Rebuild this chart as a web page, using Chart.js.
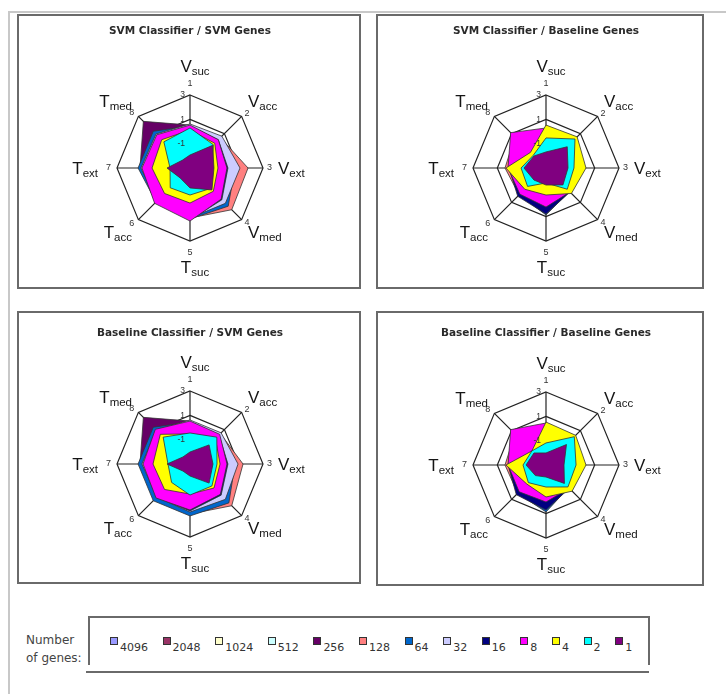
<!DOCTYPE html>
<html>
<head>
<meta charset="utf-8">
<script src="https://cdn.jsdelivr.net/npm/chart.js@4.4.1/dist/chart.umd.min.js"></script>
<style>
  html, body { margin: 0; padding: 0; background: #fff; }
  body { width: 726px; height: 694px; position: relative; overflow: hidden; font-family: "DejaVu Sans", sans-serif; }
  .frame { position: absolute; left: 8px; top: 11px; width: 718px; height: 683px; box-sizing: border-box;
           border-left: 2px solid #c8c8c8; border-top: 2px solid #c8c8c8; }
  .box { position: absolute; box-sizing: border-box; border: 2px solid #6a6a6a; background: #fff; }
  .box canvas { position: absolute; top: 0; }
  .genes-label { position: absolute; left: 26px; top: 631px; font-size: 12px; line-height: 18px; color: #444; }
  .legend-box { position: absolute; left: 88px; top: 616px; width: 562px; height: 49px; box-sizing: border-box;
                border: 2px solid #6a6a6a; border-bottom: none; display: flex; align-items: flex-start;
                padding-left: 20px; padding-top: 19px; }
  .legend-rule { position: absolute; left: 86px; top: 671px; width: 563px; height: 2px; background: #6a6a6a; }
  .item { display: flex; align-items: flex-start; margin-right: 14.6px; }
  .swatch { width: 8px; height: 8px; box-sizing: border-box; border: 1px solid #333; }
  .item span { font-size: 11px; line-height: 12px; color: #333; margin-left: 2px; margin-top: 5px; }
</style>
</head>
<body>
<div class="frame"></div>
<div class="genes-label">Number<br>of genes:</div>
<div class="legend-box" id="legend"></div>
<div class="legend-rule"></div>
<script>
// axes of every radar, clockwise from the top
const axisLetters = ['V', 'V', 'V', 'V', 'T', 'T', 'T', 'T'];
const axisSubs = ['suc', 'acc', 'ext', 'med', 'suc', 'acc', 'ext', 'med'];
const axisNumbers = ['1', '2', '3', '4', '5', '6', '7', '8'];

// series, in legend order
const geneCounts = ['4096', '2048', '1024', '512', '256', '128', '64', '32', '16', '8', '4', '2', '1'];
const geneColors = ['#9999FF', '#993366', '#FFFFCC', '#CCFFFF', '#660066', '#FF8080', '#0066CC',
                    '#CCCCFF', '#000080', '#FF00FF', '#FFFF00', '#00FFFF', '#800080'];

const chartTitles = ['SVM Classifier / SVM Genes', 'SVM Classifier / Baseline Genes',
                     'Baseline Classifier / SVM Genes', 'Baseline Classifier / Baseline Genes'];

// radial scale
const scaleMin = -3;
const scaleMax = 3;
const scaleStep = 2;

// one row per gene count (same order as geneCounts), one value per axis
const svmClassifierSvmGenes = [
    [0.45, 0.45, 0.78, 1.11, 0.95, 0.78, 0.95, 1.11],
    [0.45, 0.45, 0.86, 1.27, 1.03, 0.78, 1.03, 1.27],
    [0.45, 0.53, 0.86, 1.19, 1.03, 0.78, 1.03, 1.19],
    [0.45, 0.53, 0.86, 1.19, 1.03, 0.78, 1.03, 1.11],
    [0.53, 0.45, 0.70, 1.27, 1.11, 0.86, 1.11, 2.42],
    [0.45, 0.53, 1.77, 1.85, 1.11, 0.86, 1.11, 1.11],
    [0.45, 0.45, 0.70, 1.44, 1.19, 0.95, 1.27, 1.27],
    [0.62, 0.70, 1.11, 1.11, 1.11, 0.86, 1.03, 0.95],
    [0.45, 0.29, 0.12, 0.70, 1.27, 0.95, 0.86, 0.78],
    [0.53, 0.29, 0.04, 0.62, 1.36, 1.11, 0.95, 0.86],
    [0.12, -0.12, -0.70, -0.29, -0.12, -0.04, 0.12, 0.29],
    [0.29, -0.29, -1.19, -0.62, -0.78, -0.70, -1.36, 0.04],
    [-1.93, -0.37, -1.03, -0.45, -1.36, -1.85, -1.11, -2.10]
];

const svmClassifierBaselineGenes = [
    [-0.10, -0.33, -0.50, -0.42, 0.47, 0.00, 0.00, 0.47],
    [-0.06, -0.30, -0.47, -0.38, 0.50, 0.02, 0.02, 0.50],
    [-0.04, -0.29, -0.45, -0.37, 0.53, 0.04, 0.04, 0.53],
    [-0.04, -0.29, -0.45, -0.37, 0.53, 0.04, 0.04, 0.53],
    [-0.02, -0.25, -0.42, -0.33, 0.55, 0.08, 0.02, 0.55],
    [0.04, -0.21, -0.37, -0.29, 0.62, 0.12, 0.37, 0.62],
    [0.04, -0.21, -0.37, -0.29, 0.86, 0.12, 0.04, 0.62],
    [0.04, -0.21, -0.37, -0.29, 0.62, 0.12, 0.04, 0.62],
    [0.12, -0.12, -0.29, -0.21, 0.78, 0.29, 0.04, 0.70],
    [0.29, -0.04, -0.37, -0.21, 0.21, 0.04, 0.12, 1.11],
    [0.53, 0.62, 0.29, -0.04, -0.78, -0.53, 0.29, -1.19],
    [-0.53, 0.37, -0.70, -0.53, -1.77, -0.86, -0.95, -1.52],
    [-1.68, -0.53, -1.19, -1.03, -1.60, -1.60, -1.19, -1.60]
];

const baselineClassifierSvmGenes = [
    [0.45, 0.45, 0.78, 1.11, 0.95, 0.78, 0.95, 1.11],
    [0.45, 0.45, 0.86, 1.36, 1.03, 0.86, 1.03, 1.27],
    [0.45, 0.53, 0.78, 1.19, 1.03, 0.86, 1.03, 1.11],
    [0.45, 0.53, 0.78, 1.19, 1.03, 0.86, 1.03, 1.11],
    [0.53, 0.45, 0.70, 1.27, 1.11, 0.95, 1.11, 2.42],
    [0.45, 0.53, 1.36, 1.85, 1.11, 1.03, 1.11, 1.11],
    [0.45, 0.53, 0.70, 1.52, 1.27, 1.27, 1.27, 1.27],
    [0.62, 0.62, 0.95, 1.11, 0.95, 0.86, 0.95, 0.95],
    [0.45, 0.37, 0.12, 0.62, 0.86, 0.86, 0.78, 0.86],
    [0.53, 0.45, 0.04, 0.53, 0.78, 0.95, 0.86, 1.03],
    [-0.53, -0.04, -0.53, -0.21, -0.53, -0.04, 0.04, 0.45],
    [-0.45, 0.12, -0.78, -0.45, -0.45, -0.86, -1.19, 0.12],
    [-2.01, -0.78, -1.11, -0.78, -2.01, -2.18, -1.11, -2.18]
];

const baselineClassifierBaselineGenes = [
    [0.00, -0.25, -0.50, -0.50, 0.40, 0.17, 0.00, 0.50],
    [0.02, -0.23, -0.47, -0.47, 0.43, 0.19, 0.02, 0.52],
    [0.04, -0.21, -0.45, -0.45, 0.45, 0.21, 0.04, 0.53],
    [0.04, -0.21, -0.45, -0.45, 0.45, 0.21, 0.04, 0.53],
    [0.06, -0.17, -0.42, -0.42, 0.48, 0.25, 0.02, 0.57],
    [0.12, -0.12, -0.37, -0.37, 0.53, 0.29, 0.37, 0.62],
    [0.12, -0.12, -0.37, -0.37, 0.86, 0.29, 0.04, 0.62],
    [0.12, -0.12, -0.37, -0.37, 0.53, 0.29, 0.04, 0.62],
    [0.29, -0.04, -0.29, -0.29, 0.70, 0.45, 0.12, 0.70],
    [0.45, 0.04, -0.29, -0.29, 0.04, 0.12, 0.12, 1.11],
    [0.53, 0.45, 0.29, 0.04, -0.37, -0.78, 0.29, -1.36],
    [-1.19, 0.29, -0.53, -0.45, -1.19, -0.95, -1.11, -1.36],
    [-2.01, -0.62, -1.52, -0.86, -2.01, -1.77, -1.36, -1.60]
];

const RADIUS = 73;
const CAP = 12.2;      // cap height of the big axis letter
const SUB_DROP = 3;    // subscript baseline shift

const panels = [
    { title: chartTitles[0], rows: svmClassifierSvmGenes, box: { x: 17, y: 14, w: 344, h: 275 }, cx: 190, cy: 168, ty: 31.7 },
    { title: chartTitles[1], rows: svmClassifierBaselineGenes, box: { x: 376, y: 14, w: 328, h: 275 }, cx: 546, cy: 168, ty: 31.7 },
    { title: chartTitles[2], rows: baselineClassifierSvmGenes, box: { x: 17, y: 311, w: 344, h: 273 }, cx: 190, cy: 464, ty: 333 },
    { title: chartTitles[3], rows: baselineClassifierBaselineGenes, box: { x: 376, y: 311, w: 328, h: 275 }, cx: 546, cy: 465, ty: 333 }
];

function drawAxisName(ctx, letter, sub, x, y, align, vAlign) {
    const bigFont = '17px "Liberation Sans", Arial, sans-serif';
    const subFont = '11.5px "Liberation Sans", Arial, sans-serif';
    ctx.font = bigFont;
    const wb = ctx.measureText(letter).width;
    ctx.font = subFont;
    const ws = ctx.measureText(sub).width;
    const w = wb + ws;
    const left = align === 'left' ? x : align === 'right' ? x - w : x - w / 2;
    let base;
    if (vAlign === 'top') base = y + CAP;
    else if (vAlign === 'bottom') base = y - SUB_DROP;
    else base = y + CAP / 2;
    ctx.textAlign = 'left';
    ctx.textBaseline = 'alphabetic';
    ctx.font = bigFont;
    ctx.fillText(letter, left, base);
    ctx.font = subFont;
    ctx.fillText(sub, left + wb, base + SUB_DROP);
}

// tick values, axis numbers and axis names, drawn over the web
const axisTextPlugin = {
    id: 'axisText',
    afterDraw(chart) {
        const r = chart.scales.r;
        const ctx = chart.ctx;
        const xc = r.xCenter, yc = r.yCenter, rad = r.drawingArea;
        ctx.save();

        ctx.fillStyle = '#333';
        ctx.font = '8.5px "Liberation Sans", Arial, sans-serif';
        ctx.textAlign = 'right';
        ctx.textBaseline = 'middle';
        r.ticks.forEach(t => {
            if (t.value <= r.min) return;
            ctx.fillText(String(t.value), xc - 5, yc - r.getDistanceFromCenterForValue(t.value));
        });

        ctx.font = '9px "Liberation Sans", Arial, sans-serif';
        axisNumbers.forEach((num, i) => {
            const a = r.getIndexAngle(i) - Math.PI / 2;
            const c = Math.cos(a), s = Math.sin(a);
            const vertical = Math.abs(c) < 0.2;
            const d = vertical ? rad + 7 : rad + (c < 0 ? 6 : 4);
            const p = r.getPointPosition(i, d);
            ctx.textAlign = vertical ? 'center' : c > 0 ? 'left' : 'right';
            ctx.textBaseline = vertical ? (s < 0 ? 'bottom' : 'top') : 'middle';
            ctx.fillText(num, p.x, p.y);
        });

        ctx.fillStyle = '#151515';
        axisLetters.forEach((letter, i) => {
            const a = r.getIndexAngle(i) - Math.PI / 2;
            const c = Math.cos(a), s = Math.sin(a);
            if (Math.abs(c) < 0.2) {
                const p = r.getPointPosition(i, rad + 20);
                drawAxisName(ctx, letter, axisSubs[i], p.x + 5, p.y, 'center', s < 0 ? 'bottom' : 'top');
            } else if (Math.abs(s) < 0.2) {
                const p = r.getPointPosition(i, rad + (c > 0 ? 15 : 19));
                drawAxisName(ctx, letter, axisSubs[i], p.x, p.y, c > 0 ? 'left' : 'right', 'middle');
            } else {
                const p = r.getPointPosition(i, rad + 9);
                drawAxisName(ctx, letter, axisSubs[i], p.x, p.y, c > 0 ? 'left' : 'right', s < 0 ? 'bottom' : 'top');
            }
        });
        ctx.restore();
    }
};

panels.forEach(p => {
    const box = document.createElement('div');
    box.className = 'box';
    box.style.left = p.box.x + 'px';
    box.style.top = p.box.y + 'px';
    box.style.width = p.box.w + 'px';
    box.style.height = p.box.h + 'px';

    // canvas centred on the radar so the title and the web share one centre
    const innerLeft = p.box.x + 2, innerRight = p.box.x + p.box.w - 2;
    const half = Math.min(p.cx - innerLeft, innerRight - p.cx);
    const W = 2 * half, H = p.box.h - 4;
    const canvas = document.createElement('canvas');
    canvas.width = W;
    canvas.height = H;
    canvas.style.width = W + 'px';
    canvas.style.height = H + 'px';
    canvas.style.left = (p.cx - half - innerLeft) + 'px';
    box.appendChild(canvas);
    document.body.appendChild(box);

    const oy = p.box.y + 2;
    const areaTop = p.cy - oy - RADIUS;
    const titleLine = 10.5 * 1.2;
    const titleTop = p.ty - oy - titleLine / 2;

    // first dataset is painted last, so the smallest gene count sits on top
    const datasets = geneCounts.map((g, k) => ({
        label: g,
        data: p.rows[k],
        backgroundColor: geneColors[k],
        borderColor: '#333',
        borderWidth: 0.8,
        fill: 'start',
        pointRadius: 0,
        tension: 0
    })).reverse();

    new Chart(canvas, {
        type: 'radar',
        data: {
            labels: axisLetters.map((l, i) => l + axisSubs[i]),
            datasets: datasets
        },
        options: {
            responsive: false,
            animation: false,
            layout: {
                padding: { left: 0, right: 0, top: 0, bottom: H - areaTop - 2 * RADIUS }
            },
            plugins: {
                legend: { display: false },
                tooltip: { enabled: false },
                title: {
                    display: true,
                    text: p.title,
                    color: '#2a2a2a',
                    font: { family: '"DejaVu Sans", sans-serif', size: 10.5, weight: 'bold' },
                    padding: { top: titleTop, bottom: areaTop - titleTop - titleLine }
                }
            },
            scales: {
                r: {
                    min: scaleMin,
                    max: scaleMax,
                    ticks: { stepSize: scaleStep, display: false, z: 1 },
                    grid: { color: '#222', lineWidth: 1.2 },
                    angleLines: { color: '#222', lineWidth: 1.2 },
                    pointLabels: { display: false }
                }
            }
        },
        plugins: [axisTextPlugin]
    });
});

// legend strip
const legend = document.getElementById('legend');
geneCounts.forEach((g, k) => {
    const item = document.createElement('div');
    item.className = 'item';
    const sw = document.createElement('div');
    sw.className = 'swatch';
    sw.style.background = geneColors[k];
    const label = document.createElement('span');
    label.textContent = g;
    item.appendChild(sw);
    item.appendChild(label);
    legend.appendChild(item);
});
</script>
</body>
</html>
